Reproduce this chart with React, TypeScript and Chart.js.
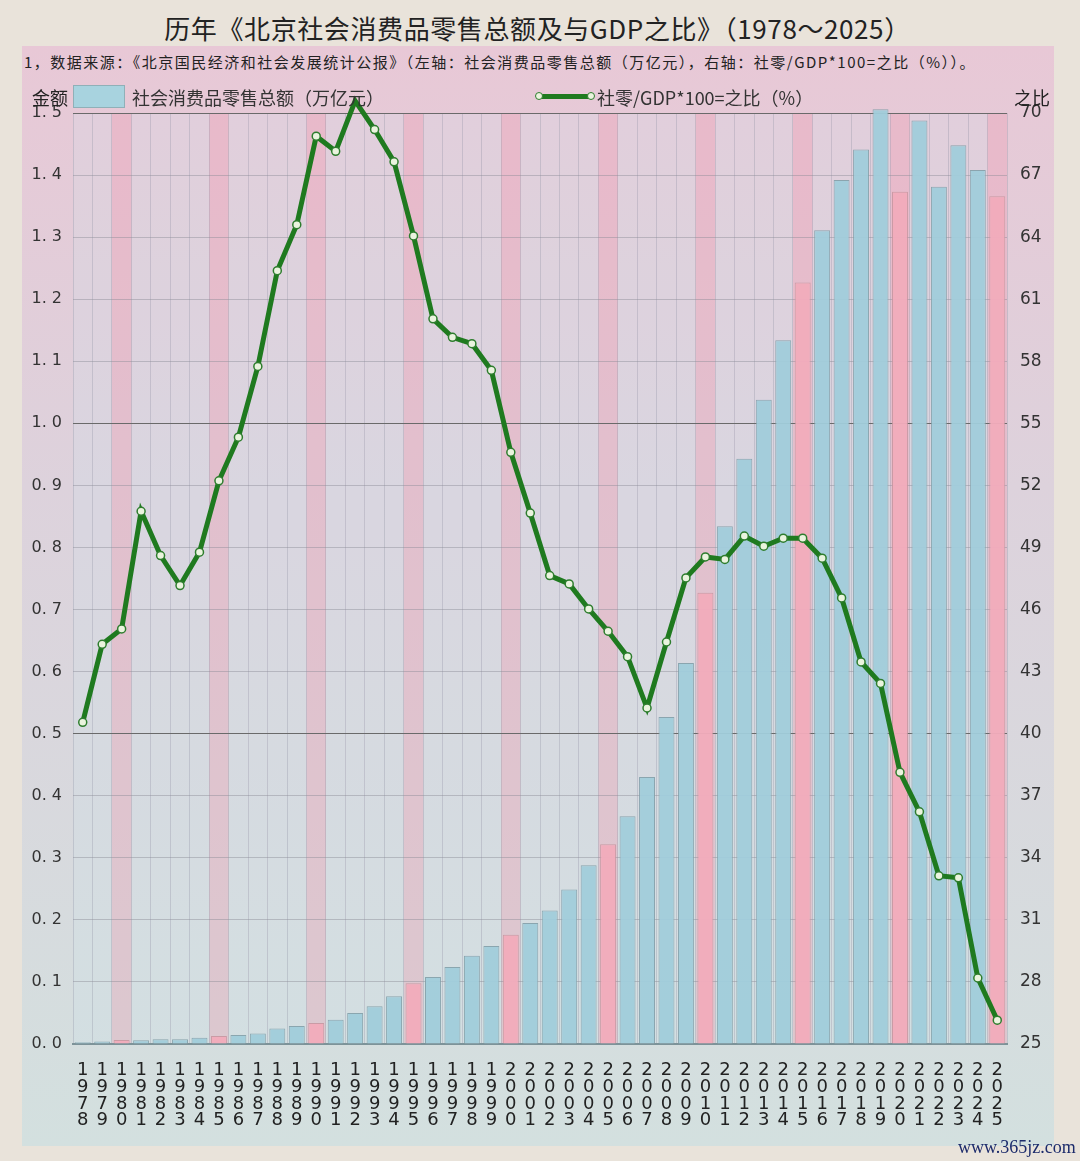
import React, { useEffect, useRef } from 'react';
import { Chart, registerables } from 'chart.js';

Chart.register(...registerables);

// 年份（横轴）
const years = [
  '1978', '1979', '1980', '1981', '1982', '1983', '1984', '1985', '1986', '1987',
  '1988', '1989', '1990', '1991', '1992', '1993', '1994', '1995', '1996', '1997',
  '1998', '1999', '2000', '2001', '2002', '2003', '2004', '2005', '2006', '2007',
  '2008', '2009', '2010', '2011', '2012', '2013', '2014', '2015', '2016', '2017',
  '2018', '2019', '2020', '2021', '2022', '2023', '2024', '2025',
];

// 社会消费品零售总额（万亿元）
const retailTotal = [
  0.003, 0.004, 0.0065, 0.006, 0.0075, 0.0075, 0.010, 0.013, 0.0145, 0.017,
  0.025, 0.029, 0.034, 0.039, 0.050, 0.061, 0.077, 0.098, 0.108, 0.124,
  0.142, 0.158, 0.176, 0.195, 0.215, 0.249, 0.288, 0.322, 0.367, 0.430,
  0.527, 0.614, 0.727, 0.834, 0.943, 1.038, 1.134, 1.227, 1.311, 1.392,
  1.441, 1.506, 1.373, 1.488, 1.381, 1.448, 1.408, 1.366,
];

// 社零/GDP*100（%）
const ratio = [
  40.55, 44.32, 45.06, 50.75, 48.61, 47.16, 48.77, 52.22, 54.33, 57.75,
  62.38, 64.60, 68.88, 68.15, 70.59, 69.20, 67.64, 64.06, 60.05, 59.16,
  58.85, 57.56, 53.60, 50.66, 47.64, 47.24, 46.03, 44.95, 43.72, 41.24,
  44.43, 47.53, 48.54, 48.42, 49.55, 49.06, 49.45, 49.45, 48.48, 46.56,
  43.47, 42.43, 38.13, 36.22, 33.13, 33.03, 28.19, 26.15,
];

const CJK = '"Noto Sans CJK SC", "Noto Sans", sans-serif';
const TICK_FONT = '"DejaVu Sans", "Noto Sans", sans-serif';

const isFiveYear = (y: string) => Number(y) % 5 === 0;

// column tint behind each year
const stripePlugin = {
  id: 'stripes',
  beforeDraw(chart: any) {
    const { ctx, chartArea, scales } = chart;
    const w = (chartArea.right - chartArea.left) / years.length;
    ctx.save();
    years.forEach((y, i) => {
      const cx = scales.x.getPixelForValue(i);
      ctx.fillStyle = isFiveYear(y) ? 'rgba(240,150,172,0.30)' : 'rgba(205,232,238,0.20)';
      ctx.fillRect(cx - w / 2, chartArea.top, w, chartArea.bottom - chartArea.top);
    });
    ctx.restore();
  },
};

const RetailChart: React.FC = () => {
  const canvasRef = useRef<HTMLCanvasElement>(null);

  useEffect(() => {
    document.body.style.margin = '0';
    if (!canvasRef.current) return;
    const chart = new Chart(canvasRef.current, {
      type: 'bar',
      data: {
        labels: years,
        datasets: [
          {
            type: 'line',
            label: '社零/GDP*100=之比（%）',
            data: ratio,
            yAxisID: 'y1',
            order: 0,
            borderColor: '#1f7a1f',
            borderWidth: 5,
            tension: 0,
            clip: false,
            pointRadius: 4,
            pointBackgroundColor: '#eaf4de',
            pointBorderColor: '#2e7d2e',
            pointBorderWidth: 1.5,
          },
          {
            type: 'bar',
            label: '社会消费品零售总额（万亿元）',
            data: retailTotal,
            yAxisID: 'y',
            order: 1,
            clip: false,
            backgroundColor: years.map((y) => (isFiveYear(y) ? 'rgba(242,172,188,0.95)' : 'rgba(160,204,218,0.95)')),
            borderColor: years.map((y) => (isFiveYear(y) ? 'rgba(200,150,160,0.9)' : 'rgba(130,160,170,0.9)')),
            borderWidth: 1,
            barPercentage: 0.82,
            categoryPercentage: 1,
          },
        ],
      },
      options: {
        responsive: false,
        animation: false,
        layout: { padding: { top: 113, left: 0, right: 0, bottom: 0 } },
        plugins: {
          legend: { display: false },
          tooltip: { enabled: false },
        },
        scales: {
          x: {
            grid: {
              display: true,
              offset: true,
              color: 'rgba(150,150,165,0.35)',
              drawTicks: false,
            },
            border: { display: true, color: '#7d9399', width: 2 },
            ticks: {
              autoSkip: false,
              maxRotation: 0,
              minRotation: 0,
              padding: 18,
              color: '#222',
              font: { family: TICK_FONT, size: 18, lineHeight: 0.93 },
              callback: (_v: any, i: number) => years[i].split(''),
            },
            afterFit: (s: any) => {
              s.height = 117;
            },
          },
          y: {
            position: 'left',
            min: 0,
            max: 1.5,
            ticks: {
              stepSize: 0.1,
              padding: 11,
              color: '#333',
              font: { family: TICK_FONT, size: 16 },
              callback: (v: any) => Number(v).toFixed(1).replace('.', '. '),
            },
            grid: {
              drawTicks: false,
              color: (c: any) => {
                const v = c.tick ? c.tick.value : 0;
                return Math.abs(v * 2 - Math.round(v * 2)) < 1e-6 ? '#6a6a6a' : 'rgba(140,140,150,0.45)';
              },
            },
            border: { display: false },
            afterFit: (s: any) => {
              s.width = 73;
            },
          },
          y1: {
            position: 'right',
            min: 25,
            max: 70,
            ticks: {
              stepSize: 3,
              padding: 13,
              color: '#333',
              font: { family: TICK_FONT, size: 17 },
            },
            grid: { display: false, drawTicks: false },
            border: { display: false },
            afterFit: (s: any) => {
              s.width = 73;
            },
          },
        },
      },
      plugins: [stripePlugin],
    });
    return () => chart.destroy();
  }, []);

  return (
    <canvas
      ref={canvasRef}
      width={1080}
      height={1161}
      style={{ position: 'absolute', left: 0, top: 0, width: 1080, height: 1161 }}
    />
  );
};

const App: React.FC = () => {
  return (
    <div
      style={{
        position: 'absolute',
        left: 0,
        top: 0,
        width: 1080,
        height: 1161,
        overflow: 'hidden',
        background: '#e9e3da',
        fontFamily: CJK,
      }}
    >
      <div
        style={{
          position: 'absolute',
          left: 22,
          top: 46,
          width: 1032,
          height: 1100,
          background: 'linear-gradient(to bottom, #e8c8d6 0%, #ddd2dc 40%, #d3e0df 100%)',
        }}
      />
      <div
        style={{
          position: 'absolute',
          left: 0,
          top: 9,
          width: 1075,
          textAlign: 'center',
          fontSize: 26,
          lineHeight: '38px',
          letterSpacing: 0.6,
          color: '#222',
          fontWeight: 400,
        }}
      >
        历年《北京社会消费品零售总额及与GDP之比》（1978～2025）
      </div>
      <div
        style={{
          position: 'absolute',
          left: 24,
          top: 52,
          fontSize: 15,
          lineHeight: '20px',
          letterSpacing: 1.5,
          color: '#222',
          whiteSpace: 'nowrap',
        }}
      >
        1，数据来源：《北京国民经济和社会发展统计公报》（左轴：社会消费品零售总额（万亿元），右轴：社零/GDP*100=之比（%））。
      </div>
      <RetailChart />
      {/* legend and axis titles */}
      <div style={{ position: 'absolute', left: 32, top: 85, fontSize: 18, lineHeight: '24px', color: '#222' }}>金额</div>
      <div
        style={{
          position: 'absolute',
          left: 73,
          top: 85,
          width: 52,
          height: 23,
          boxSizing: 'border-box',
          background: '#a8d3df',
          border: '1px solid #8fb0b8',
        }}
      />
      <div style={{ position: 'absolute', left: 132, top: 85, fontSize: 18, lineHeight: '24px', color: '#333' }}>
        社会消费品零售总额（万亿元）
      </div>
      <div style={{ position: 'absolute', left: 537, top: 94, width: 56, height: 5, background: '#1f7a1f' }} />
      {[539, 591].map((x) => (
        <div
          key={x}
          style={{
            position: 'absolute',
            left: x - 4,
            top: 92,
            width: 8,
            height: 8,
            boxSizing: 'border-box',
            borderRadius: '50%',
            background: '#eaf4de',
            border: '1.5px solid #2e7d2e',
          }}
        />
      ))}
      <div style={{ position: 'absolute', left: 597, top: 85, fontSize: 18, lineHeight: '24px', color: '#333' }}>
        社零/GDP*100=之比（%）
      </div>
      <div style={{ position: 'absolute', left: 1014, top: 85, fontSize: 18, lineHeight: '24px', color: '#222' }}>之比</div>
      <div
        style={{
          position: 'absolute',
          left: 958,
          top: 1135,
          fontSize: 18,
          lineHeight: '24px',
          fontFamily: '"Liberation Serif", serif',
          color: '#1c2b6b',
        }}
      >
        www.365jz.com
      </div>
    </div>
  );
};

export default App;
